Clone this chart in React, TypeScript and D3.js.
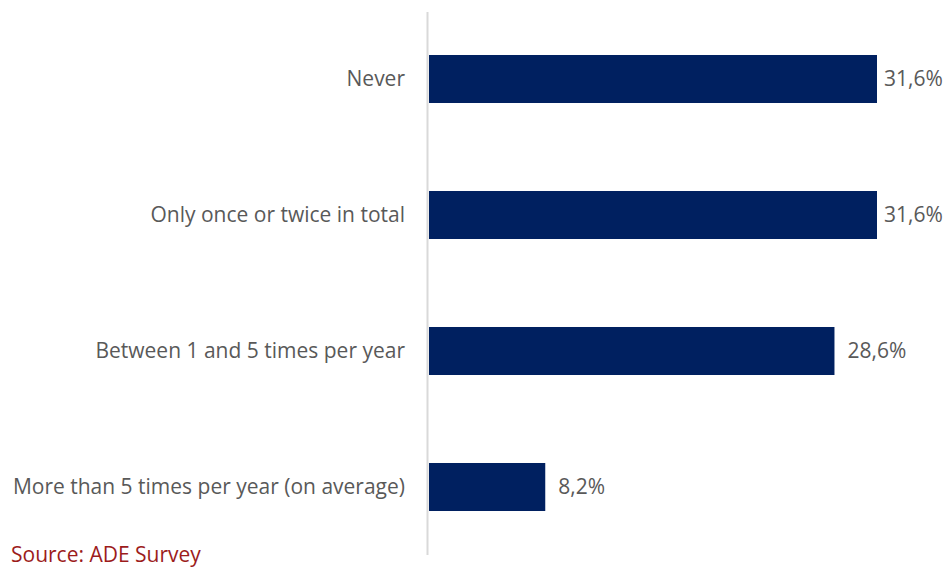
import React from "react";
import * as d3 from "d3";

const categories = [
  "Never",
  "Only once or twice in total",
  "Between 1 and 5 times per year",
  "More than 5 times per year (on average)",
];
const values = [31.6, 31.6, 28.6, 8.2];
const valueLabels = ["31,6%", "31,6%", "28,6%", "8,2%"];
const sourceText = "Source: ADE Survey";

const W = 949;
const H = 568;
const FONT = "'Open Sans', Lato, sans-serif";

export default function App() {
  const x = d3.scaleLinear().domain([0, 31.6]).range([429, 877]);
  const y = d3
    .scaleBand<string>()
    .domain(categories)
    .range([11, 555])
    .paddingInner(0.647)
    .paddingOuter(0.3235);

  return (
    <svg
      width={W}
      height={H}
      style={{ position: "absolute", left: 0, top: 0, background: "#fff" }}
    >
      <line x1={427.5} x2={427.5} y1={12} y2={555} stroke="#d9d9d9" strokeWidth={2} />
      {categories.map((c, i) => {
        const yy = y(c)!;
        const bw = y.bandwidth();
        return (
          <g key={c}>
            <rect x={x(0)} y={yy} width={x(values[i]) - x(0)} height={bw} fill="#002060" />
            <text
              x={405}
              y={yy + bw / 2}
              dy="0.35em"
              textAnchor="end"
              fontFamily={FONT}
              fontSize={21}
              fill="#595959"
            >
              {c}
            </text>
            <text
              x={Math.min(x(values[i]) + 13, 884)}
              y={yy + bw / 2}
              dy="0.35em"
              fontFamily={FONT}
              fontSize={21}
              fill="#595959"
            >
              {valueLabels[i]}
            </text>
          </g>
        );
      })}
      <text x={11} y={562} fontFamily={FONT} fontSize={21} fill="#9c1c1c">
        {sourceText}
      </text>
    </svg>
  );
}
